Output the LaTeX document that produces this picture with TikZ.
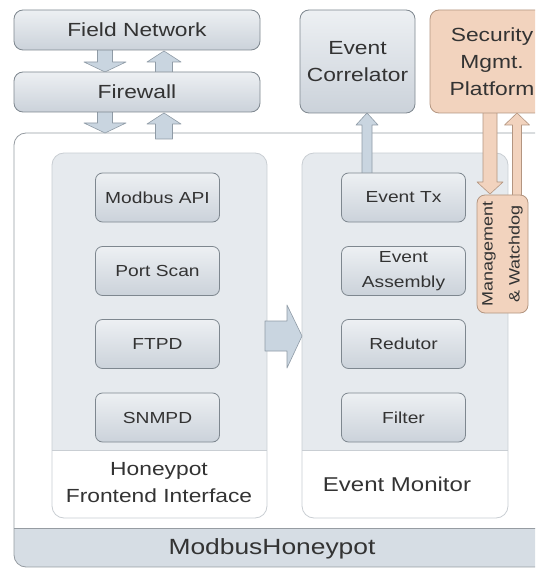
\documentclass[tikz,border=0pt]{standalone}
\usepackage{fontspec}
\setmainfont{Liberation Sans}[FakeStretch=1.2]
\definecolor{boxtop}{HTML}{EDF0F3}
\definecolor{boxbot}{HTML}{CBD2DA}
\definecolor{boxline}{HTML}{7E878F}
\definecolor{panelgray}{HTML}{E6EAEE}
\definecolor{panelline}{HTML}{C9CED3}
\definecolor{mainline}{HTML}{969CA2}
\definecolor{bandgray}{HTML}{D6DDE4}
\definecolor{peach}{HTML}{F2D3BE}
\definecolor{peachline}{HTML}{B39580}
\definecolor{arrfill}{HTML}{C9D5E0}
\definecolor{arrline}{HTML}{8F9BA6}
\definecolor{txt}{HTML}{333333}
\newcommand\vblk[7]{%
  \draw[#1] ({#2-#6},#3) -- ({#2-#6},#4) -- ({#2-#7},#4) -- (#2,#5) -- ({#2+#7},#4) -- ({#2+#6},#4) -- ({#2+#6},#3) -- cycle;}
\begin{document}
\begin{tikzpicture}[x=1pt,y=-1pt,
  box/.style={draw=boxline, line width=0.8pt, rounded corners=7pt, top color=boxtop, bottom color=boxbot,
    text=txt, align=center, inner sep=0pt, font=\fontsize{16}{25}\selectfont},
  inbox/.style={box, minimum width=124pt, minimum height=49pt},
  topbox/.style={box, rounded corners=9pt, font=\fontsize{19}{27}\selectfont},
  panel/.style={draw=panelline, line width=0.8pt, rounded corners=12pt, inner sep=0pt},
  lbl/.style={text=txt, align=center, font=\fontsize{19}{27}\selectfont},
  garr/.style={fill=arrfill, draw=arrline, line width=0.6pt, line join=round},
  parr/.style={fill=peach, draw=peachline, line width=0.6pt, line join=round},
  peachbox/.style={draw=peachline, line width=0.8pt, fill=peach, text=txt, align=center, inner sep=0pt}]
\useasboundingbox (0,0) rectangle (535,569);
\clip (0,0) rectangle (535,569);
\fill[white] (0,0) rectangle (535,569);
% main box
\begin{scope}
  \clip[rounded corners=12pt] (14,133) rectangle (560,567);
  \fill[white] (14,133) rectangle (560,567);
  \fill[bandgray] (14,528) rectangle (560,567);
\end{scope}
\draw[mainline, line width=0.8pt] (14,528) -- (560,528);
\node[draw=mainline, line width=0.8pt, rounded corners=12pt, minimum width=546pt, minimum height=434pt, inner sep=0pt] (mh) at (287,350) {};
\node[lbl, font=\fontsize{22}{26}\selectfont] (mhl) at (272,549) {ModbusHoneypot};
% panels
\begin{scope}
  \clip[rounded corners=12pt] (52,153) rectangle (267,518);
  \fill[panelgray] (52,153) rectangle (267,450);
\end{scope}
\draw[panelline, line width=0.6pt] (52,450) -- (267,450);
\node[panel, minimum width=215pt, minimum height=365pt] (hfi) at (159.5,335.5) {};
\node[lbl] (hfil) at (159,483) {Honeypot\\Frontend Interface};
\begin{scope}
  \clip[rounded corners=12pt] (302,153) rectangle (508,518);
  \fill[panelgray] (302,153) rectangle (508,450);
\end{scope}
\draw[panelline, line width=0.6pt] (302,450) -- (508,450);
\node[panel, minimum width=206pt, minimum height=365pt] (em) at (405,335.5) {};
\node[lbl, font=\fontsize{20}{27}\selectfont] (eml) at (397,484) {Event Monitor};
% gray block arrows
\vblk{garr}{105}{44}{62}{72}{7.5}{21}
\vblk{garr}{164}{78}{62}{51}{8.5}{17}
\vblk{garr}{105}{106}{123}{133}{7.5}{21}
\vblk{garr}{164}{139}{124}{113}{8.5}{17}
\vblk{garr}{367}{178}{125}{113}{5}{11}
\draw[garr] (265,321) -- (287,321) -- (287,305) -- (302,336) -- (287,368) -- (287,351) -- (265,351) -- cycle;
% peach arrows
\vblk{parr}{490}{108}{182}{194}{7}{13}
\vblk{parr}{517}{200}{125}{113}{4.5}{12.5}
% top boxes
\node[topbox, minimum width=246pt, minimum height=40pt] (fn) at (137,30) {Field Network};
\node[topbox, minimum width=246pt, minimum height=40pt] (fw) at (137,92) {Firewall};
\node[topbox, minimum width=115pt, minimum height=103pt] (ec) at (357.5,61.5) {Event\\Correlator};
\node[peachbox, rounded corners=9pt, minimum width=124pt, minimum height=103pt, font=\fontsize{19}{27}\selectfont] (smp) at (492,61.5) {Security\\Mgmt.\\Platform};
\node[peachbox, rounded corners=8pt, rotate=90, minimum width=118pt, minimum height=51pt, font=\fontsize{15}{27}\selectfont] (mw) at (502.5,254) {Management\\\& Watchdog};
% inner boxes
\node[inbox] (api) at (157.5,197.5) {Modbus API};
\node[inbox] (ps) at (157.5,271) {Port Scan};
\node[inbox] (ftpd) at (157.5,344) {FTPD};
\node[inbox] (snmpd) at (157.5,417.5) {SNMPD};
\node[inbox] (etx) at (403.5,197.5) {Event Tx};
\node[inbox] (eas) at (403.5,271) {Event\\Assembly};
\node[inbox] (red) at (403.5,344) {Redutor};
\node[inbox] (fil) at (403.5,417.5) {Filter};
\end{tikzpicture}
\end{document}
